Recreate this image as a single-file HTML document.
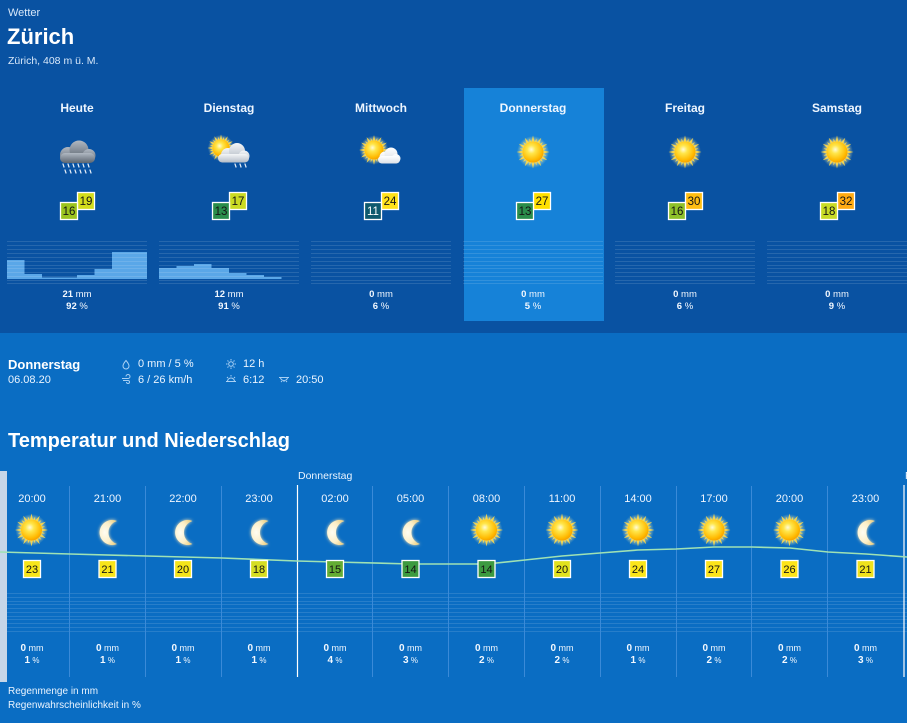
<!DOCTYPE html>
<html><head><meta charset="utf-8">
<style>
html,body{margin:0;padding:0;background:#0a6dc3;width:907px;height:723px;overflow:hidden;}
svg{display:block;}
text{font-family:"Liberation Sans",Arial,sans-serif;}
</style></head><body>
<svg width="907" height="723" viewBox="0 0 907 723" xmlns="http://www.w3.org/2000/svg">
<defs>
 <radialGradient id="sg" cx="0.42" cy="0.38" r="0.65">
  <stop offset="0" stop-color="#fffbd8"/>
  <stop offset="0.3" stop-color="#ffe64a"/>
  <stop offset="0.8" stop-color="#ffb900"/>
  <stop offset="1" stop-color="#f59c00"/>
 </radialGradient>
 <radialGradient id="sglow" cx="0.5" cy="0.5" r="0.5">
  <stop offset="0.55" stop-color="#fff3a0" stop-opacity="0.8"/>
  <stop offset="1" stop-color="#fff3a0" stop-opacity="0"/>
 </radialGradient>
 <radialGradient id="mg" cx="0.3" cy="0.5" r="0.7">
  <stop offset="0" stop-color="#fffdf2"/>
  <stop offset="0.6" stop-color="#fcefc8"/>
  <stop offset="1" stop-color="#efd48e"/>
 </radialGradient>
 <linearGradient id="dc" x1="0" y1="0" x2="0" y2="1">
  <stop offset="0" stop-color="#b0b8c2"/>
  <stop offset="1" stop-color="#5c6570"/>
 </linearGradient>
 <linearGradient id="lc" x1="0" y1="0" x2="0" y2="1">
  <stop offset="0" stop-color="#f4f6f8"/>
  <stop offset="1" stop-color="#b4bcc6"/>
 </linearGradient>
 <linearGradient id="wc" x1="0" y1="0" x2="0" y2="1">
  <stop offset="0" stop-color="#ffffff"/>
  <stop offset="1" stop-color="#dde1e7"/>
 </linearGradient>
 <filter id="bl" x="-50%" y="-50%" width="200%" height="200%"><feGaussianBlur stdDeviation="1.6"/></filter>
 <g id="sun">
  <circle r="16" fill="url(#sglow)"/>
  <g fill="#ffd94a" fill-opacity="0.9">
   <path d="M-1.8,-9L0,-16.5L1.8,-9ZM-1.8,9L0,16.5L1.8,9Z"/>
   <path transform="rotate(30)" d="M-1.8,-9L0,-16.5L1.8,-9ZM-1.8,9L0,16.5L1.8,9Z"/>
   <path transform="rotate(60)" d="M-1.8,-9L0,-16.5L1.8,-9ZM-1.8,9L0,16.5L1.8,9Z"/>
   <path transform="rotate(90)" d="M-1.8,-9L0,-16.5L1.8,-9ZM-1.8,9L0,16.5L1.8,9Z"/>
   <path transform="rotate(120)" d="M-1.8,-9L0,-16.5L1.8,-9ZM-1.8,9L0,16.5L1.8,9Z"/>
   <path transform="rotate(150)" d="M-1.8,-9L0,-16.5L1.8,-9ZM-1.8,9L0,16.5L1.8,9Z"/>
   <path transform="rotate(15)" d="M-1.4,-9L0,-14L1.4,-9ZM-1.4,9L0,14L1.4,9Z"/>
   <path transform="rotate(45)" d="M-1.4,-9L0,-14L1.4,-9ZM-1.4,9L0,14L1.4,9Z"/>
   <path transform="rotate(75)" d="M-1.4,-9L0,-14L1.4,-9ZM-1.4,9L0,14L1.4,9Z"/>
   <path transform="rotate(105)" d="M-1.4,-9L0,-14L1.4,-9ZM-1.4,9L0,14L1.4,9Z"/>
   <path transform="rotate(135)" d="M-1.4,-9L0,-14L1.4,-9ZM-1.4,9L0,14L1.4,9Z"/>
   <path transform="rotate(165)" d="M-1.4,-9L0,-14L1.4,-9ZM-1.4,9L0,14L1.4,9Z"/>
  </g>
  <circle r="10.5" fill="url(#sg)"/>
 </g>
 <g id="moon">
  <path d="M5,-11.5A12.5,12.5 0 1 0 5,11.5A12,12 0 0 1 5,-11.5Z" fill="#ffe9b5" filter="url(#bl)"/>
  <path d="M5,-11.5A12.5,12.5 0 1 0 5,11.5A12,12 0 0 1 5,-11.5Z" fill="url(#mg)"/>
 </g>
</defs>

<!-- top section -->
<rect x="0" y="0" width="907" height="333" fill="#0952a2"/>
<rect x="464" y="88" width="140" height="233" fill="#1682d8"/>

<text x="8" y="16" font-size="11" fill="#d8e8fa">Wetter</text>
<text x="7" y="44" font-size="22" font-weight="bold" fill="#ffffff">Zürich</text>
<text x="8" y="64" font-size="10.5" fill="#d8e8fa">Zürich, 408 m ü. M.</text>

<g font-size="12" font-weight="bold" fill="#eef6ff" text-anchor="middle">
 <text x="77" y="112">Heute</text>
 <text x="229" y="112">Dienstag</text>
 <text x="381" y="112">Mittwoch</text>
 <text x="533" y="112">Donnerstag</text>
 <text x="685" y="112">Freitag</text>
 <text x="837" y="112">Samstag</text>
</g>

<!-- Heute icon: rain cloud -->
<g fill="url(#dc)">
 <circle cx="68" cy="155" r="8"/>
 <circle cx="79" cy="150" r="9.5"/>
 <circle cx="89" cy="155.5" r="6.5"/>
 <rect x="60" y="153" width="35" height="10" rx="5"/>
</g>
<g stroke="#e6eef8" stroke-width="1.2" stroke-linecap="round">
 <path d="M63,164l1,3M68,164l1,3M73,164l1,3M78,164l1,3M83,164l1,3M88,164l1,3"/>
 <path d="M65,170l1,3M70,170l1,3M75,170l1,3M80,170l1,3M85,170l1,3M90,170l1,3"/>
</g>

<!-- Dienstag icon: sun + cloud + drops -->
<use href="#sun" transform="translate(221,148) scale(0.82)"/>
<g fill="url(#lc)">
 <circle cx="228" cy="155" r="7"/>
 <circle cx="237" cy="151" r="8"/>
 <circle cx="244" cy="156" r="5.5"/>
 <rect x="218" y="154" width="31" height="8.5" rx="4.2"/>
</g>
<g stroke="#e6eef8" stroke-width="1.2" stroke-linecap="round">
 <path d="M235,164l1,3M240,164l1,3M245,164l1,3"/>
</g>

<!-- Mittwoch icon: sun + white cloud -->
<use href="#sun" transform="translate(374,150) scale(0.9)"/>
<g fill="url(#wc)">
 <circle cx="385" cy="157" r="5.5"/>
 <circle cx="391" cy="154" r="6.5"/>
 <circle cx="396" cy="158.5" r="4.5"/>
 <rect x="378" y="156" width="22" height="7.5" rx="3.7"/>
</g>

<use href="#sun" x="533" y="152"/>
<use href="#sun" x="685" y="152"/>
<use href="#sun" x="837" y="152"/>

<!-- day temp boxes -->
<g stroke="#ffffff" stroke-width="1.3" font-size="11.5" text-anchor="middle">
 <rect x="77.5" y="192.5" width="17" height="17" fill="#d4dd1c"/>
 <rect x="60.5" y="202.5" width="17" height="17" fill="#9cc41f"/>
 <rect x="229.5" y="192.5" width="17" height="17" fill="#cbdb22"/>
 <rect x="212.5" y="202.5" width="17" height="17" fill="#2b8d4b"/>
 <rect x="381.5" y="192.5" width="17" height="17" fill="#ffe21a"/>
 <rect x="364.5" y="202.5" width="17" height="17" fill="#0e5a6e"/>
 <rect x="533.5" y="192.5" width="17" height="17" fill="#ffe000"/>
 <rect x="516.5" y="202.5" width="17" height="17" fill="#2b8d4b"/>
 <rect x="685.5" y="192.5" width="17" height="17" fill="#ffbe12"/>
 <rect x="668.5" y="202.5" width="17" height="17" fill="#8fc12a"/>
 <rect x="837.5" y="192.5" width="17" height="17" fill="#ffab12"/>
 <rect x="820.5" y="202.5" width="17" height="17" fill="#c9dc26"/>
</g>
<g font-size="11.5" text-anchor="middle" fill="#141414">
 <text x="86" y="205">19</text><text x="69" y="215">16</text>
 <text x="238" y="205">17</text><text x="221" y="215">13</text>
 <text x="390" y="205">24</text><text x="373" y="215" fill="#ffffff">11</text>
 <text x="542" y="205">27</text><text x="525" y="215">13</text>
 <text x="694" y="205">30</text><text x="677" y="215">16</text>
 <text x="846" y="205">32</text><text x="829" y="215">18</text>
</g>

<!-- day precip bars -->
<g fill="#5aa7e8">
 <rect x="7" y="260" width="17.5" height="19"/>
 <rect x="24.5" y="274" width="17.5" height="5"/>
 <rect x="42" y="277.5" width="35" height="1.5"/>
 <rect x="77" y="275" width="17.5" height="4"/>
 <rect x="94.5" y="269" width="17.5" height="10"/>
 <rect x="112" y="252" width="35" height="27"/>
 <rect x="159" y="268" width="17.5" height="11"/>
 <rect x="176.5" y="266" width="17.5" height="13"/>
 <rect x="194" y="264" width="17.5" height="15"/>
 <rect x="211.5" y="268" width="17.5" height="11"/>
 <rect x="229" y="273" width="17.5" height="6"/>
 <rect x="246.5" y="275" width="17.5" height="4"/>
 <rect x="264" y="277" width="17.5" height="2"/>
</g>
<g stroke="#ffffff" stroke-opacity="0.12" stroke-width="1" stroke-dasharray="140 12">
 <path d="M7,241.5H907M7,245.5H907M7,249.5H907M7,253.5H907M7,257.5H907M7,261.5H907M7,265.5H907M7,268.5H907M7,272.5H907M7,276.5H907M7,280.5H907M7,283.5H907"/>
</g>

<g text-anchor="middle" fill="#f2f8ff">
 <text x="77" y="297" font-size="9.5"><tspan font-weight="bold">21</tspan> mm</text>
 <text x="77" y="309" font-size="9.5"><tspan font-weight="bold">92</tspan> %</text>
 <text x="229" y="297" font-size="9.5"><tspan font-weight="bold">12</tspan> mm</text>
 <text x="229" y="309" font-size="9.5"><tspan font-weight="bold">91</tspan> %</text>
 <text x="381" y="297" font-size="9.5"><tspan font-weight="bold">0</tspan> mm</text>
 <text x="381" y="309" font-size="9.5"><tspan font-weight="bold">6</tspan> %</text>
 <text x="533" y="297" font-size="9.5"><tspan font-weight="bold">0</tspan> mm</text>
 <text x="533" y="309" font-size="9.5"><tspan font-weight="bold">5</tspan> %</text>
 <text x="685" y="297" font-size="9.5"><tspan font-weight="bold">0</tspan> mm</text>
 <text x="685" y="309" font-size="9.5"><tspan font-weight="bold">6</tspan> %</text>
 <text x="837" y="297" font-size="9.5"><tspan font-weight="bold">0</tspan> mm</text>
 <text x="837" y="309" font-size="9.5"><tspan font-weight="bold">9</tspan> %</text>
</g>

<!-- middle info -->
<text x="8" y="369" font-size="13" font-weight="bold" fill="#ffffff">Donnerstag</text>
<text x="8" y="383" font-size="11" fill="#eaf4ff">06.08.20</text>
<g font-size="11" fill="#eaf4ff">
 <text x="138" y="367">0 mm / 5 %</text>
 <text x="138" y="383">6 / 26 km/h</text>
 <text x="243" y="367">12 h</text>
 <text x="243" y="383">6:12</text>
 <text x="296" y="383">20:50</text>
</g>
<g fill="none" stroke="#a8d0f4" stroke-width="1">
 <path d="M126,360.5q-3,3.5 -3,5.5a3,3 0 0 0 6,0q0,-2 -3,-5.5z"/>
 <path d="M122,378.5h6a2,2 0 1 0 -2,-2M123,380.5h5a1.5,1.5 0 1 1 -1.5,1.5"/>
 <circle cx="231" cy="364" r="2.3"/>
 <path d="M231,359v1.5M231,367.5v1.5M226,364h1.5M234.5,364h1.5M227.5,360.5l1,1M233.5,366.5l1,1M234.5,360.5l-1,1M228.5,366.5l-1,1"/>
 <path d="M227.5,381.5a3.5,3.5 0 0 1 7,0M226,381.5h10M231,375v1.5M227,377l1,1M235,377l-1,1"/>
 <path d="M280.5,377.5a3.5,3 0 0 0 7,0M279,377.5h10M284,380v2M281,381l1,1M287,381l-1,1"/>
</g>

<text x="8" y="447" font-size="20" font-weight="bold" fill="#ffffff">Temperatur und Niederschlag</text>

<!-- hourly chart -->
<rect x="0" y="471" width="7" height="211" fill="#c6d6e8"/>
<text x="298" y="479" font-size="10.5" fill="#eaf4ff">Donnerstag</text>
<text x="905" y="479" font-size="10.5" fill="#eaf4ff">F</text>

<g stroke="#ffffff" stroke-opacity="0.12" stroke-width="1">
 <path d="M7,593.5H907M7,597.5H907M7,601.5H907M7,604.5H907M7,608.5H907M7,612.5H907M7,616.5H907M7,619.5H907M7,623.5H907M7,627.5H907M7,631.5H907"/>
</g>
<g stroke="#3a8ad8" stroke-width="1">
 <path d="M69.5,486V677M145.5,486V677M221.5,486V677M372.5,486V677M448.5,486V677M524.5,486V677M600.5,486V677M676.5,486V677M751.5,486V677M827.5,486V677"/>
</g>
<g stroke="#ffffff" stroke-width="1.2">
 <path d="M297.5,485V677M904,485V677"/>
</g>

<g font-size="11" fill="#f0f6ff" text-anchor="middle">
 <text x="32" y="502">20:00</text>
 <text x="107.5" y="502">21:00</text>
 <text x="183" y="502">22:00</text>
 <text x="259" y="502">23:00</text>
 <text x="335" y="502">02:00</text>
 <text x="410.5" y="502">05:00</text>
 <text x="486.5" y="502">08:00</text>
 <text x="562" y="502">11:00</text>
 <text x="638" y="502">14:00</text>
 <text x="714" y="502">17:00</text>
 <text x="789.5" y="502">20:00</text>
 <text x="865.5" y="502">23:00</text>
</g>

<polyline fill="none" stroke="#9fe2b4" stroke-width="1.6" stroke-linejoin="round" points="0,552 70,554 146,556 222,558 297,561 335,562 411,564 487,564 525,560 562,556 600,553 638,550 676,549 714,547 752,547 790,548 828,552 866,554 907,557"/>

<use href="#sun" x="31.5" y="530"/>
<use href="#moon" transform="translate(112,532.5)"/>
<use href="#moon" transform="translate(187.5,532.5)"/>
<use href="#moon" transform="translate(263.5,532.5)"/>
<use href="#moon" transform="translate(339.5,532.5)"/>
<use href="#moon" transform="translate(415,532.5)"/>
<use href="#sun" x="486.5" y="530"/>
<use href="#sun" x="562" y="530"/>
<use href="#sun" x="638" y="530"/>
<use href="#sun" x="714" y="530"/>
<use href="#sun" x="789.5" y="530"/>
<use href="#moon" transform="translate(870,532.5)"/>

<g stroke="#ffffff" stroke-width="1.3">
 <rect x="23.5" y="560.5" width="17" height="17" fill="#f8e51a"/>
 <rect x="99" y="560.5" width="17" height="17" fill="#f8e51a"/>
 <rect x="174.5" y="560.5" width="17" height="17" fill="#f5e41a"/>
 <rect x="250.5" y="560.5" width="17" height="17" fill="#d6dd22"/>
 <rect x="326.5" y="560.5" width="17" height="17" fill="#64ad34"/>
 <rect x="402" y="560.5" width="17" height="17" fill="#3c9a40"/>
 <rect x="478" y="560.5" width="17" height="17" fill="#3c9a40"/>
 <rect x="553.5" y="560.5" width="17" height="17" fill="#e2e21e"/>
 <rect x="629.5" y="560.5" width="17" height="17" fill="#fbe51a"/>
 <rect x="705.5" y="560.5" width="17" height="17" fill="#fde41a"/>
 <rect x="781" y="560.5" width="17" height="17" fill="#fde41a"/>
 <rect x="857" y="560.5" width="17" height="17" fill="#f0e21c"/>
</g>
<g font-size="11" fill="#141414" text-anchor="middle">
 <text x="32" y="573">23</text>
 <text x="107.5" y="573">21</text>
 <text x="183" y="573">20</text>
 <text x="259" y="573">18</text>
 <text x="335" y="573">15</text>
 <text x="410.5" y="573">14</text>
 <text x="486.5" y="573">14</text>
 <text x="562" y="573">20</text>
 <text x="638" y="573">24</text>
 <text x="714" y="573">27</text>
 <text x="789.5" y="573">26</text>
 <text x="865.5" y="573">21</text>
</g>

<g fill="#f2f8ff" text-anchor="middle">
 <text x="32" y="651" font-size="9"><tspan font-weight="bold" font-size="10">0</tspan> mm</text>
 <text x="107.5" y="651" font-size="9"><tspan font-weight="bold" font-size="10">0</tspan> mm</text>
 <text x="183" y="651" font-size="9"><tspan font-weight="bold" font-size="10">0</tspan> mm</text>
 <text x="259" y="651" font-size="9"><tspan font-weight="bold" font-size="10">0</tspan> mm</text>
 <text x="335" y="651" font-size="9"><tspan font-weight="bold" font-size="10">0</tspan> mm</text>
 <text x="410.5" y="651" font-size="9"><tspan font-weight="bold" font-size="10">0</tspan> mm</text>
 <text x="486.5" y="651" font-size="9"><tspan font-weight="bold" font-size="10">0</tspan> mm</text>
 <text x="562" y="651" font-size="9"><tspan font-weight="bold" font-size="10">0</tspan> mm</text>
 <text x="638" y="651" font-size="9"><tspan font-weight="bold" font-size="10">0</tspan> mm</text>
 <text x="714" y="651" font-size="9"><tspan font-weight="bold" font-size="10">0</tspan> mm</text>
 <text x="789.5" y="651" font-size="9"><tspan font-weight="bold" font-size="10">0</tspan> mm</text>
 <text x="865.5" y="651" font-size="9"><tspan font-weight="bold" font-size="10">0</tspan> mm</text>
 <text x="32" y="663" font-size="8"><tspan font-weight="bold" font-size="10">1</tspan> %</text>
 <text x="107.5" y="663" font-size="8"><tspan font-weight="bold" font-size="10">1</tspan> %</text>
 <text x="183" y="663" font-size="8"><tspan font-weight="bold" font-size="10">1</tspan> %</text>
 <text x="259" y="663" font-size="8"><tspan font-weight="bold" font-size="10">1</tspan> %</text>
 <text x="335" y="663" font-size="8"><tspan font-weight="bold" font-size="10">4</tspan> %</text>
 <text x="410.5" y="663" font-size="8"><tspan font-weight="bold" font-size="10">3</tspan> %</text>
 <text x="486.5" y="663" font-size="8"><tspan font-weight="bold" font-size="10">2</tspan> %</text>
 <text x="562" y="663" font-size="8"><tspan font-weight="bold" font-size="10">2</tspan> %</text>
 <text x="638" y="663" font-size="8"><tspan font-weight="bold" font-size="10">1</tspan> %</text>
 <text x="714" y="663" font-size="8"><tspan font-weight="bold" font-size="10">2</tspan> %</text>
 <text x="789.5" y="663" font-size="8"><tspan font-weight="bold" font-size="10">2</tspan> %</text>
 <text x="865.5" y="663" font-size="8"><tspan font-weight="bold" font-size="10">3</tspan> %</text>
</g>

<text x="8" y="694" font-size="10" fill="#eaf4ff">Regenmenge in mm</text>
<text x="8" y="708" font-size="10" fill="#eaf4ff">Regenwahrscheinlichkeit in %</text>
</svg>
</body></html>
